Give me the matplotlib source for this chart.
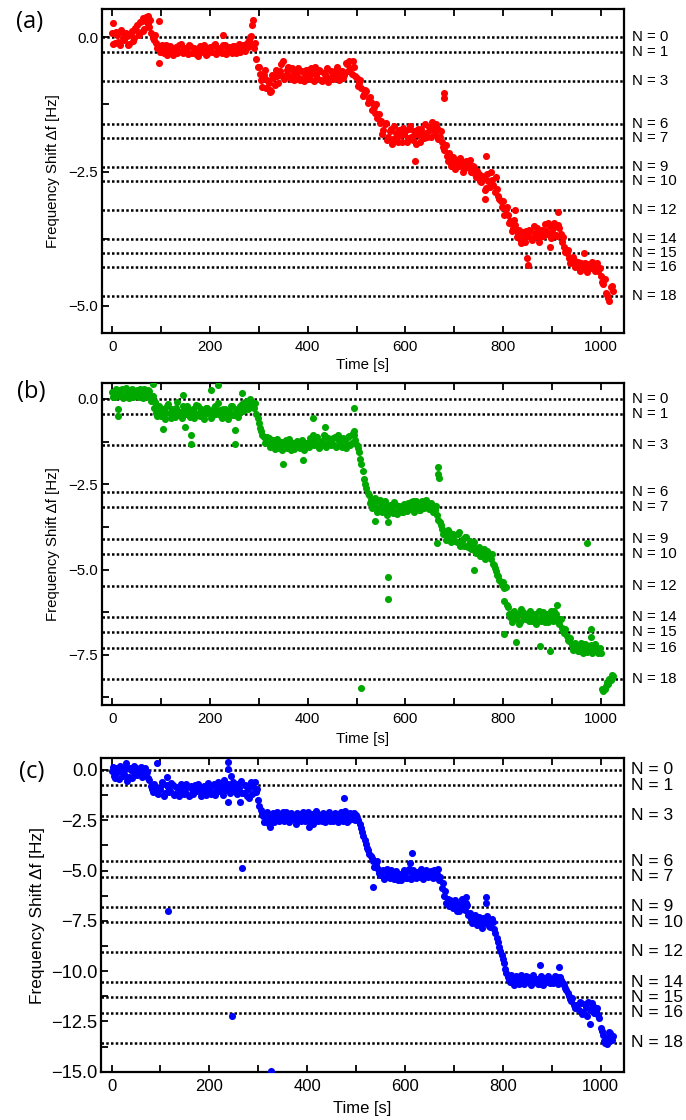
import numpy as np
import matplotlib
matplotlib.use("Agg")
import matplotlib.pyplot as plt
from matplotlib.ticker import MultipleLocator, FuncFormatter
import matplotlib.transforms as mtransforms

plt.rcParams['font.family'] = ['Liberation Sans', 'DejaVu Sans']

# sampling times of the frequency-shift trace [s]: two interleaved read-outs
time_s = np.arange(0, 1030, 5)
time_mid_s = np.arange(2.5, 1025, 5)

# ---------------- panel (a) : red ----------------
shift_a = [
    0.08, -0.10, 0.05, -0.14, 0.10, -0.05, 0.02, -0.12, 0.12, -0.02,
    0.22, 0.05, 0.30, 0.15, 0.38, 0.20, 0.08, -0.05, -0.10, -0.18,
    -0.22, -0.30, -0.15, -0.28, -0.20, -0.33, -0.18, -0.26, -0.12, -0.30,
    -0.20, -0.32, -0.17, -0.27, -0.22, -0.34, -0.16, -0.25, -0.20, -0.31,
    -0.18, -0.28, -0.13, -0.25, -0.20, -0.30, -0.15, -0.24, -0.18, -0.29,
    -0.16, -0.27, -0.12, -0.24, -0.18, -0.10, -0.05, 0.02, -0.20, -0.40,
    -0.55, -0.80, -0.70, -0.95, -0.85, -1.00, -0.75, -0.60, -0.85, -0.50,
    -0.45, -0.70, -0.55, -0.78, -0.62, -0.72, -0.58, -0.80, -0.65, -0.74,
    -0.60, -0.78, -0.66, -0.55, -0.75, -0.62, -0.82, -0.68, -0.58, -0.76,
    -0.64, -0.72, -0.55, -0.80, -0.62, -0.70, -0.50, -0.45, -0.68, -0.55,
    -0.75, -0.85, -0.95, -1.05, -1.00, -1.15, -1.20, -1.30, -1.25, -1.42,
    -1.55, -1.72, -1.60, -1.85, -1.70, -1.90, -1.78, -1.95, -1.82, -1.68,
    -1.75, -1.88, -1.65, -1.92, -1.80, -1.70, -1.95, -1.78, -1.62, -1.85,
    -1.72, -1.58, -1.80, -1.68, -1.85, -1.95, -2.10, -2.20, -2.15, -2.30,
    -2.35, -2.28, -2.40, -2.32, -2.45, -2.30, -2.38, -2.50, -2.42, -2.60,
    -2.55, -2.70, -2.62, -2.80, -2.68, -2.50, -2.75, -2.60, -2.95, -3.05,
    -3.05, -3.20, -3.30, -3.42, -3.55, -3.50, -3.65, -3.75, -3.62, -3.80,
    -3.70, -3.60, -3.78, -3.65, -3.55, -3.72, -3.58, -3.48, -3.66, -3.52,
    -3.62, -3.45, -3.70, -3.55, -3.80, -3.90, -4.02, -4.10, -4.18, -4.15,
    -4.25, -4.30, -4.20, -4.32, -4.26, -4.22, -4.30, -4.24, -4.28, -4.35,
    -4.45, -4.60, -4.75, -4.85, -4.65, -4.72,
]
shift_mid_a = [
    -0.12, 0.10, -0.08, 0.14, -0.02, 0.08, -0.15, 0.05, -0.06, 0.18,
    0.10, 0.28, 0.12, 0.36, 0.25, 0.32, -0.02, 0.05, -0.20, -0.28,
    -0.14, -0.24, -0.33, -0.16, -0.28, -0.22, -0.30, -0.15, -0.27, -0.20,
    -0.28, -0.14, -0.30, -0.20, -0.32, -0.24, -0.28, -0.15, -0.33, -0.22,
    -0.26, -0.15, -0.32, -0.19, -0.27, -0.14, -0.31, -0.20, -0.26, -0.16,
    -0.30, -0.20, -0.28, -0.15, -0.25, -0.18, 0.00, -0.12, -0.10, -0.55,
    -0.68, -0.92, -0.60, -0.80, -0.98, -0.70, -0.88, -0.72, -0.62, -0.72,
    -0.78, -0.60, -0.72, -0.58, -0.80, -0.64, -0.76, -0.62, -0.82, -0.60,
    -0.72, -0.58, -0.82, -0.70, -0.60, -0.80, -0.66, -0.74, -0.84, -0.62,
    -0.78, -0.60, -0.70, -0.62, -0.76, -0.48, -0.62, -0.58, -0.44, -0.72,
    -0.90, -0.80, -1.10, -0.98, -1.22, -1.12, -1.35, -1.40, -1.50, -1.60,
    -1.80, -1.62, -1.92, -1.75, -1.98, -1.65, -1.86, -1.72, -1.95, -1.80,
    -1.95, -1.70, -1.85, -1.75, -1.98, -1.82, -1.70, -1.88, -1.78, -1.66,
    -1.85, -1.70, -1.62, -1.90, -1.75, -2.05, -2.00, -2.30, -2.40, -2.22,
    -2.45, -2.38, -2.25, -2.50, -2.35, -2.42, -2.28, -2.40, -2.55, -2.48,
    -2.68, -2.58, -2.85, -2.55, -2.78, -2.65, -2.88, -2.82, -3.00, -3.15,
    -3.30, -3.15, -3.45, -3.60, -3.40, -3.72, -3.58, -3.82, -3.70, -3.60,
    -3.58, -3.74, -3.52, -3.70, -3.80, -3.62, -3.70, -3.60, -3.45, -3.74,
    -3.55, -3.68, -3.50, -3.66, -3.72, -4.00, -3.95, -4.20, -4.08, -4.28,
    -4.18, -4.35, -4.24, -4.20, -4.36, -4.30, -4.18, -4.34, -4.20, -4.30,
    -4.55, -4.50, -4.80, -4.90, -4.62,
]
extra_t_a = [1, 62, 70, 74, 96, 96, 227, 287, 289, 323, 620, 678, 680,
             763, 765, 824, 848, 850, 895, 912, 966]
extra_v_a = [0.26, 0.35, 0.30, 0.40, 0.31, -0.47, 0.04, 0.23, 0.33, -1.02,
             -2.31, -1.04, -1.13, -3.00, -2.21, -3.21, -4.10, -4.24, -3.91,
             -3.25, -4.02]
levels_a = [0.0, -0.28, -0.81, -1.61, -1.87, -2.41, -2.68, -3.21, -3.75,
            -4.01, -4.28, -4.81]

# ---------------- panel (b) : green ----------------
shift_b = [
    0.20, 0.05, 0.25, 0.10, 0.30, 0.08, 0.22, 0.02, 0.28, 0.12,
    0.25, 0.05, 0.18, 0.30, 0.10, 0.22, -0.05, -0.25, -0.40, -0.20,
    -0.50, -0.30, -0.42, -0.15, -0.55, -0.35, -0.25, -0.48, -0.38, -0.20,
    -0.45, -0.30, -0.52, -0.28, -0.40, -0.22, -0.50, -0.35, -0.45, -0.25,
    -0.38, -0.50, -0.20, -0.42, -0.32, -0.55, -0.28, -0.45, -0.35, -0.22,
    -0.48, -0.30, -0.40, -0.15, -0.30, -0.05, -0.20, -0.10, -0.25, -0.45,
    -0.70, -0.95, -1.10, -1.25, -1.15, -1.35, -1.20, -1.30, -1.45, -1.25,
    -1.40, -1.20, -1.35, -1.50, -1.28, -1.42, -1.32, -1.45, -1.25, -1.38,
    -1.30, -1.15, -1.05, -1.28, -1.12, -1.38, -1.22, -1.08, -1.32, -1.18,
    -1.28, -1.12, -1.38, -1.22, -1.42, -1.18, -1.32, -1.08, -1.28, -1.05,
    -1.35, -1.55, -1.90, -2.35, -2.60, -2.80, -2.95, -3.10, -3.00, -3.20,
    -3.05, -3.25, -3.15, -3.30, -3.20, -3.35, -3.10, -3.28, -3.18, -3.32,
    -3.15, -3.05, -3.22, -3.00, -3.18, -3.08, -3.25, -2.98, -3.12, -3.05,
    -3.20, -3.10, -3.25, -3.40, -3.60, -3.80, -3.95, -4.05, -3.90, -4.10,
    -4.00, -4.20, -3.90, -4.15, -4.30, -4.05, -4.25, -4.40, -4.20, -4.50,
    -4.35, -4.55, -4.40, -4.60, -4.50, -4.70, -4.85, -5.05, -5.20, -5.35,
    -5.35, -5.50, -6.10, -6.40, -6.25, -6.45, -6.30, -6.55, -6.25, -6.45,
    -6.35, -6.20, -6.50, -6.30, -6.45, -6.25, -6.40, -6.55, -6.30, -6.45,
    -6.35, -6.20, -6.45, -6.60, -6.70, -6.85, -6.95, -7.10, -7.20, -7.30,
    -7.25, -7.40, -7.15, -7.30, -7.22, -7.38, -7.20, -7.35, -7.28, -7.45,
    -7.45, -8.55, -8.42, -8.35, -8.25, -8.12,
]
shift_mid_b = [
    0.05, 0.30, 0.12, 0.25, 0.02, 0.32, 0.10, 0.25, 0.05, 0.20,
    0.08, 0.28, 0.02, 0.15, 0.25, 0.05, 0.10, -0.10, -0.50, -0.35,
    -0.28, -0.58, -0.20, -0.40, -0.30, -0.52, -0.10, -0.38, -0.55, -0.32,
    -0.22, -0.48, -0.35, -0.55, -0.18, -0.42, -0.30, -0.58, -0.25, -0.40,
    -0.55, -0.25, -0.45, -0.12, -0.50, -0.28, -0.40, -0.58, -0.20, -0.48,
    -0.32, -0.52, -0.22, -0.35, -0.08, -0.28, 0.00, -0.18, -0.12, -0.55,
    -0.85, -1.05, -1.30, -1.10, -1.40, -1.22, -1.48, -1.18, -1.32, -1.50,
    -1.25, -1.45, -1.18, -1.30, -1.48, -1.22, -1.40, -1.20, -1.50, -1.28,
    -1.40, -1.22, -1.35, -1.12, -1.45, -1.25, -1.05, -1.40, -1.15, -1.35,
    -1.15, -1.40, -1.05, -1.35, -1.15, -1.45, -1.12, -1.35, -1.00, -1.20,
    -1.45, -1.75, -2.10, -2.50, -2.75, -3.05, -3.20, -2.90, -3.30, -2.95,
    -3.30, -3.00, -3.40, -3.12, -3.25, -3.02, -3.38, -3.15, -3.30, -3.08,
    -3.28, -3.20, -3.02, -3.30, -3.00, -3.25, -3.10, -3.20, -2.95, -3.22,
    -3.05, -3.30, -3.15, -3.55, -3.70, -3.95, -4.12, -3.85, -4.20, -3.95,
    -4.15, -3.95, -4.30, -4.10, -4.05, -4.35, -4.15, -4.25, -4.45, -4.40,
    -4.60, -4.45, -4.70, -4.45, -4.65, -4.55, -4.95, -5.15, -5.30, -5.45,
    -5.55, -6.05, -6.30, -6.55, -6.20, -6.35, -6.60, -6.15, -6.40, -6.30,
    -6.50, -6.30, -6.40, -6.60, -6.20, -6.50, -6.25, -6.40, -6.55, -6.20,
    -6.50, -6.30, -6.55, -6.45, -6.80, -6.75, -7.05, -7.00, -7.35, -7.15,
    -7.40, -7.20, -7.45, -7.18, -7.42, -7.25, -7.45, -7.18, -7.40, -7.30,
    -8.50, -8.50, -8.30, -8.20, -8.10,
]
extra_t_b = [12, 12, 84, 104, 144, 149, 162, 162, 203, 217,
             251, 251, 265, 349, 391, 411, 435, 494, 495, 510,
             538, 565, 565, 565, 664, 667, 667, 668, 741, 782,
             802, 802, 826, 876, 895, 910, 971, 979, 979]
extra_v_b = [-0.28, -0.51, 0.43, -0.88, 0.12, -0.81, -1.07, -1.33, 0.26, 0.40,
             -0.91, -1.33, 0.18, -1.91, -1.78, -0.57, -0.81, -0.94, -0.27, -8.48,
             -3.58, -3.60, -5.21, -5.87, -4.23, -2.00, -2.20, -2.33, -5.00, -4.86,
             -5.91, -6.88, -7.13, -7.23, -7.38, -6.04, -4.21, -6.74, -6.98]
levels_b = [0.0, -0.44, -1.36, -2.73, -3.18, -4.10, -4.55, -5.47, -6.39,
            -6.84, -7.29, -8.21]

# ---------------- panel (c) : blue ----------------
shift_c = [
    -0.05, -0.30, 0.10, -0.45, 0.05, -0.20, 0.15, -0.35, 0.00, -0.25,
    0.10, -0.15, 0.15, -0.05, -0.20, -0.40, -0.80, -1.10, -0.85, -1.20,
    -0.95, -0.70, -1.15, -0.85, -1.05, -0.75, -1.20, -0.90, -1.00, -0.80,
    -1.10, -0.85, -1.25, -0.95, -0.75, -1.05, -0.90, -1.15, -0.80, -1.00,
    -0.85, -1.10, -0.70, -0.95, -1.05, -0.80, -0.50, -1.00, -0.75, -0.90,
    -1.05, -0.70, -0.90, -0.55, -1.15, -0.80, -0.95, -0.60, -0.85, -1.10,
    -1.50, -2.00, -2.30, -2.55, -2.20, -2.40, -2.15, -2.50, -2.25, -2.45,
    -2.10, -2.35, -2.20, -2.50, -2.25, -2.40, -2.15, -2.45, -2.30, -2.55,
    -2.35, -2.65, -2.20, -2.45, -2.15, -2.40, -2.55, -2.25, -2.40, -2.10,
    -2.30, -2.45, -2.20, -2.40, -2.10, -2.35, -2.25, -2.50, -2.30, -2.15,
    -2.25, -2.50, -2.90, -3.30, -3.70, -4.00, -4.30, -4.55, -4.70, -4.90,
    -5.20, -4.95, -5.30, -5.10, -5.35, -5.05, -5.25, -5.45, -5.15, -5.30,
    -5.10, -5.35, -5.00, -5.25, -5.15, -5.05, -5.30, -5.10, -5.20, -5.00,
    -5.25, -5.05, -4.95, -5.15, -5.45, -5.85, -6.25, -6.60, -6.75, -6.55,
    -6.80, -6.55, -7.00, -6.75, -6.90, -6.60, -7.20, -7.40, -7.30, -7.55,
    -7.45, -7.70, -7.35, -7.60, -7.50, -7.80, -7.55, -8.10, -8.55, -9.00,
    -9.40, -9.90, -10.30, -10.55, -10.35, -10.60, -10.40, -10.55, -10.30, -10.50,
    -10.45, -10.60, -10.35, -10.55, -10.40, -10.65, -10.50, -10.35, -10.55, -10.45,
    -10.40, -10.55, -10.30, -10.50, -10.45, -10.70, -10.95, -11.25, -11.50, -11.70,
    -11.70, -11.95, -11.60, -12.05, -11.80, -11.55, -11.90, -11.75, -12.00, -12.20,
    -12.85, -13.20, -13.55, -13.30, -13.10, -13.25,
]
shift_mid_c = [
    0.15, -0.40, -0.10, 0.20, -0.30, 0.05, -0.55, 0.10, -0.40, 0.08,
    -0.25, 0.05, -0.35, 0.12, -0.10, -0.50, -0.95, -0.70, -1.15, -0.95,
    -0.60, -1.30, -0.75, -1.10, -0.65, -1.25, -0.85, -1.30, -0.70, -1.20,
    -0.70, -1.30, -0.80, -1.20, -1.00, -0.70, -1.30, -0.95, -1.25, -0.65,
    -1.20, -0.75, -1.25, -0.60, -0.85, -1.25, -0.95, -0.70, -1.15, -0.60,
    -0.80, -1.20, -0.65, -1.15, -0.75, -1.30, -0.70, -1.20, -0.60, -0.95,
    -1.80, -2.20, -2.60, -2.10, -2.70, -2.30, -2.60, -2.10, -2.55, -2.20,
    -2.55, -2.10, -2.60, -2.15, -2.45, -2.70, -2.20, -2.55, -2.10, -2.40,
    -2.10, -2.40, -2.70, -2.05, -2.55, -2.25, -2.15, -2.60, -2.20, -2.55,
    -2.55, -2.15, -2.60, -2.20, -2.55, -2.05, -2.60, -2.15, -2.45, -2.50,
    -2.40, -2.70, -3.10, -3.50, -3.90, -4.20, -4.40, -4.80, -4.55, -5.10,
    -5.00, -5.40, -4.90, -5.25, -4.95, -5.40, -5.00, -5.20, -5.45, -4.95,
    -5.35, -4.90, -5.40, -4.95, -5.35, -5.25, -4.90, -5.40, -4.95, -5.30,
    -5.00, -5.35, -5.20, -4.90, -5.30, -5.60, -6.00, -6.40, -6.45, -6.85,
    -6.45, -7.00, -6.65, -6.40, -6.95, -6.70, -7.10, -7.60, -7.20, -7.70,
    -7.30, -7.85, -7.55, -7.25, -7.75, -7.40, -7.90, -8.35, -8.80, -9.20,
    -9.60, -10.10, -10.45, -10.20, -10.70, -10.25, -10.65, -10.20, -10.65, -10.25,
    -10.30, -10.70, -10.20, -10.40, -10.65, -10.25, -10.70, -10.55, -10.25, -10.60,
    -10.60, -10.25, -10.65, -10.30, -10.60, -10.85, -11.10, -11.40, -11.35, -11.85,
    -11.85, -11.55, -12.15, -11.65, -12.25, -11.95, -11.60, -12.10, -11.85, -12.35,
    -13.00, -13.45, -13.60, -13.05, -13.40,
]
extra_t_c = [29, 46, 94, 114, 115, 238, 238, 245, 238, 262, 282, 246, 266,
             326, 325, 403, 476, 535, 611, 615, 725, 765, 765, 877, 915, 978]
extra_v_c = [0.33, 0.20, 0.36, -0.34, -7.00, 0.40, 0.07, -0.30, -1.58, -1.58,
             -1.41, -12.22, -4.89, -14.95, -2.84, -2.84, -1.41, -5.80, -4.62,
             -4.11, -6.30, -6.30, -6.60, -9.70, -9.80, -12.64]
levels_c = [0.0, -0.75, -2.27, -4.53, -5.31, -6.80, -7.56, -9.04, -10.56,
            -11.31, -12.06, -13.57]

n_values = [0, 1, 3, 6, 7, 9, 10, 12, 14, 15, 16, 18]
panel_tags = ["(a)", "(b)", "(c)"]

W, H = 686, 1120
fig = plt.figure(figsize=(W / 100, H / 100), dpi=100)


def axes_px(left, top, right, bottom):
    return fig.add_axes([left / W, 1 - bottom / H, (right - left) / W, (bottom - top) / H])


def minus_fmt(v, pos):
    if abs(v) < 1e-9:
        v = 0.0
    return f"{v:.1f}".replace("-", "\u2212")


panels = [
    dict(shift=shift_a, mid=shift_mid_a, et=extra_t_a, ev=extra_v_a, levels=levels_a,
         color="#ff0000", box=(101.7, 9.3, 624.3, 332.7), ylim=(-5.497, 0.521),
         ytick_fs=10.8, xtick_fs=10.8, nfs=10.8, ylab_fs=10.8, xlab_fs=10.8,
         ylab_x=53, xlab_y=365, tag_xy=(30, 22)),
    dict(shift=shift_b, mid=shift_mid_b, et=extra_t_b, ev=extra_v_b, levels=levels_b,
         color="#00a800", box=(101.7, 383.3, 624.3, 705.0), ylim=(-8.97, 0.46),
         ytick_fs=10.8, xtick_fs=10.8, nfs=10.8, ylab_fs=10.8, xlab_fs=10.8,
         ylab_x=53, xlab_y=739, tag_xy=(31, 392)),
    dict(shift=shift_c, mid=shift_mid_c, et=extra_t_c, ev=extra_v_c, levels=levels_c,
         color="#0000ff", box=(101.0, 758.3, 624.0, 1071.7), ylim=(-15.0, 0.58),
         ytick_fs=13.2, xtick_fs=12.0, nfs=12.6, ylab_fs=12.4, xlab_fs=12.0,
         ylab_x=38, xlab_y=1108, tag_xy=(32, 772)),
]

for tag, p in zip(panel_tags, panels):
    left, top, right, bottom = p["box"]
    ax = axes_px(left, top, right, bottom)
    ax.set_xlim(-21.5, 1048)
    ax.set_ylim(*p["ylim"])

    # quantised frequency levels
    for lvl in p["levels"]:
        ax.axhline(lvl, color="black", lw=1.8, linestyle=(0, (1, 0.9)), zorder=2)
    trans = mtransforms.blended_transform_factory(ax.transAxes, ax.transData)
    for n, lvl in zip(n_values, p["levels"]):
        ax.text(1.014, lvl, f"N = {n}", transform=trans, ha="left", va="center",
                fontsize=p["nfs"], clip_on=False)

    # measured trace
    ax.scatter(time_s, p["shift"], s=26, color=p["color"], linewidths=0, zorder=3)
    ax.scatter(time_mid_s, p["mid"], s=26, color=p["color"], linewidths=0, zorder=3)
    ax.scatter(p["et"], p["ev"], s=26, color=p["color"], linewidths=0, zorder=3)

    ax.xaxis.set_major_locator(MultipleLocator(200))
    ax.xaxis.set_minor_locator(MultipleLocator(100))
    ax.yaxis.set_major_locator(MultipleLocator(2.5))
    ax.yaxis.set_minor_locator(MultipleLocator(1.25))
    ax.yaxis.set_major_formatter(FuncFormatter(minus_fmt))
    ax.tick_params(which="both", direction="in", top=True, right=False,
                   length=4.8, width=1.3, color="black")
    ax.tick_params(axis="x", which="major", labelsize=p["xtick_fs"], pad=5)
    ax.tick_params(axis="y", which="major", labelsize=p["ytick_fs"], pad=2.5)
    for sp in ax.spines.values():
        sp.set_linewidth(1.6)

    cx = (left + right) / 2
    cy = (top + bottom) / 2
    fig.text(p["ylab_x"] / W, 1 - cy / H, "Frequency Shift \u0394f [Hz]", rotation=90,
             ha="center", va="center", fontsize=p["ylab_fs"])
    fig.text(cx / W, 1 - p["xlab_y"] / H, "Time [s]", ha="center", va="center",
             fontsize=p["xlab_fs"])
    fig.text(p["tag_xy"][0] / W, 1 - p["tag_xy"][1] / H, tag, ha="center", va="center",
             fontsize=17, family=["Open Sans", "DejaVu Sans"])

fig.savefig("out.png", dpi=100)
